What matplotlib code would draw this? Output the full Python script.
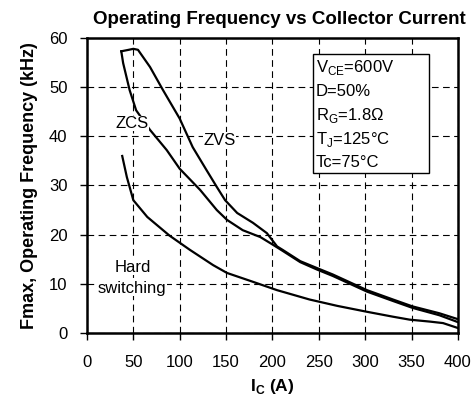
import matplotlib
matplotlib.use("Agg")
import matplotlib.pyplot as plt
from matplotlib.patches import Rectangle

plt.rcParams["font.family"] = ["Liberation Sans", "DejaVu Sans"]
plt.rcParams["mathtext.fontset"] = "custom"
plt.rcParams["mathtext.rm"] = "Liberation Sans"
plt.rcParams["mathtext.bf"] = "Liberation Sans:bold"

# curves (I_C in A, f in kHz)
zvs_ic = [37, 45, 50, 55, 68, 82, 100, 114, 129, 140, 149, 162, 179, 194, 205,
          211, 230, 248, 265, 302, 330, 351, 380, 400]
zvs_f = [57.3, 57.6, 57.8, 57.6, 54.1, 49.4, 43.6, 37.8, 33.1, 29.7, 27.0,
         24.4, 22.4, 20.3, 17.6, 16.9, 14.6, 13.2, 11.9, 8.7, 6.8, 5.4, 4.0, 2.8]

zcs_ic = [37, 39, 46, 53, 68, 86, 100, 122, 140, 151, 168, 187, 200, 211,
          230, 248, 265, 302, 330, 351, 380, 400]
zcs_f = [57.3, 54.9, 49.4, 45.3, 41.3, 37.2, 33.4, 29.1, 25.0, 23.0, 20.9,
         19.5, 18.0, 16.7, 14.4, 12.9, 11.6, 8.4, 6.5, 5.1, 3.6, 2.2]

hard_ic = [38, 43, 50, 65, 89, 111, 136, 151, 179, 205, 240, 270, 302, 330,
           348, 370, 384, 400]
hard_f = [36.0, 31.7, 27.0, 23.6, 19.8, 16.9, 13.8, 12.2, 10.4, 8.7, 6.8,
          5.5, 4.3, 3.3, 2.7, 2.3, 2.0, 1.0]

xticks = [0, 50, 100, 150, 200, 250, 300, 350, 400]
yticks = [0, 10, 20, 30, 40, 50, 60]

cond_lines = [r"V$_{\mathregular{CE}}$=600V", "D=50%",
              r"R$_{\mathregular{G}}$=1.8Ω", r"T$_{\mathregular{J}}$=125°C",
              "Tc=75°C"]

fig = plt.figure(figsize=(4.74, 4.07), dpi=100)
ax = fig.add_axes([0.1835, 0.182, 0.7825, 0.7246])

for xs, ys in [(zvs_ic, zvs_f), (zcs_ic, zcs_f), (hard_ic, hard_f)]:
    ax.plot(xs, ys, color="black", lw=1.6, zorder=3)

ax.set_xlim(0, 400)
ax.set_ylim(0, 60)
ax.set_xticks(xticks)
ax.set_yticks(yticks)
ax.tick_params(labelsize=12, direction="out", length=5, width=1)
ax.tick_params(axis="x", pad=11)
ax.tick_params(axis="y", pad=9)
ax.grid(True, color="black", ls=(0, (6, 4)), lw=0.8)
for s in ax.spines.values():
    s.set_linewidth(1.8)

ax.set_title("Operating Frequency vs Collector Current", fontsize=13.5,
             fontweight="bold", pad=10, x=0.52)
ax.set_xlabel(r"I$_{\mathbf{C}}$ (A)", fontsize=12.5, fontweight="bold",
              labelpad=5)
ax.set_ylabel("Fmax, Operating Frequency (kHz)", fontsize=13,
              fontweight="bold", labelpad=8)

lbl = dict(fontsize=12, ha="center", va="center", zorder=4,
           bbox=dict(fc="white", ec="none", pad=0.3))
ax.text(48.5, 42.6, "ZCS", **lbl)
ax.text(143, 39.2, "ZVS", **lbl)
ax.text(49.5, 13.4, "Hard", **lbl)
ax.text(48.5, 9.1, "switching", **lbl)

# test-conditions box
ax.add_patch(Rectangle((244, 32.5), 125, 24.2, fc="white", ec="black",
                       lw=1, zorder=4))
for i, s in enumerate(cond_lines):
    ax.text(247, 54.0 - i * 4.85, s, fontsize=12, ha="left", va="center",
            zorder=5)

fig.savefig("out.png", dpi=100)
